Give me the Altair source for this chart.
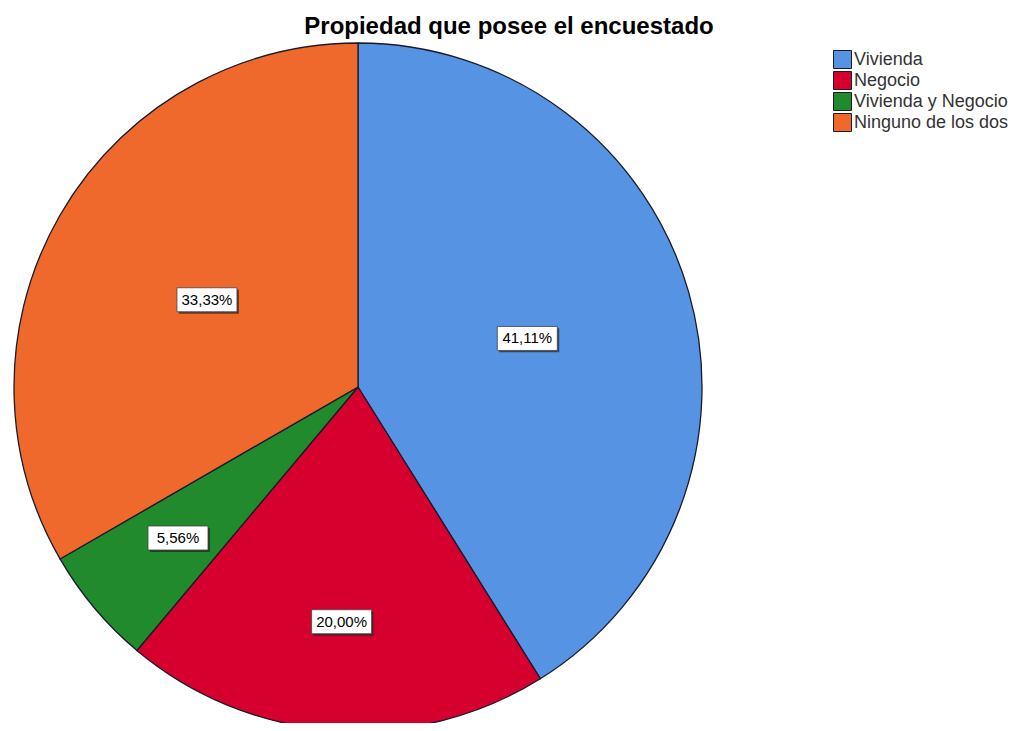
import altair as alt
import pandas as pd

# ---- data ----
categories = ["Vivienda", "Negocio", "Vivienda y Negocio", "Ninguno de los dos"]
percentages = [41.11, 20.00, 5.56, 33.33]
label_texts = ["41,11%", "20,00%", "5,56%", "33,33%"]

# ---- style ----
colors = ["#5693E3", "#D5002E", "#218A2C", "#F0692C"]
label_radius = [0.512, 0.684, 0.683, 0.507]  # label distance as fraction of radius
R = 344
W = 688
H = 660
FONT = "Liberation Sans"

df = pd.DataFrame({
    "cat": categories,
    "pct": percentages,
    "label": label_texts,
    "idx": list(range(len(categories))),
    "lr": label_radius,
})

color_scale = alt.Scale(domain=categories, range=colors)
xs = alt.Scale(domain=[-W / 2 / R, W / 2 / R])
ys = alt.Scale(domain=[-H / 2 / R, H / 2 / R])

base = alt.Chart(df)

pie = base.mark_arc(outerRadius=R, stroke="#1a1a2a", strokeWidth=1.3).encode(
    theta=alt.Theta("pct:Q", stack=True),
    order=alt.Order("idx:Q"),
    color=alt.Color(
        "cat:N",
        scale=color_scale,
        sort=categories,
        legend=alt.Legend(
            title=None,
            orient="none",
            legendX=819,
            legendY=-7,
            symbolType="square",
            symbolSize=324,
            symbolStrokeColor="#1a1a2a",
            symbolStrokeWidth=1,
            labelFont=FONT,
            labelFontSize=18,
            labelColor="#333333",
            labelOffset=2,
            clipHeight=19,
            rowPadding=2,
            padding=0,
        ),
    ),
)

pos = base.transform_window(
    cum="sum(pct)", sort=[alt.SortField("idx")], frame=[None, 0]
).transform_joinaggregate(
    total="sum(pct)"
).transform_calculate(
    mid="(datum.cum - datum.pct / 2) / datum.total * 2 * PI",
).transform_calculate(
    px="sin(datum.mid) * datum.lr",
    py="cos(datum.mid) * datum.lr",
)

enc = dict(
    x=alt.X("px:Q", scale=xs, axis=None),
    y=alt.Y("py:Q", scale=ys, axis=None),
)

shadow = pos.mark_point(
    shape="M-1.17,-0.42 L1.33,-0.42 L1.33,0.58 L-1.17,0.58 Z",
    size=2304,
    filled=True,
    fill="#222222",
    opacity=0.7,
    strokeWidth=0,
).encode(**enc)

box = pos.mark_point(
    shape="M-1.25,-0.5 L1.25,-0.5 L1.25,0.5 L-1.25,0.5 Z",
    size=2304,
    filled=True,
    fill="white",
    opacity=1,
    stroke="#444444",
    strokeWidth=0.8,
).encode(**enc)

text = pos.mark_text(font=FONT, fontSize=15, color="black").encode(
    text="label:N", **enc
)

chart = alt.layer(pie, shadow, box, text).properties(
    width=W,
    height=H,
    background="white",
    title=alt.TitleParams(
        "Propiedad que posee el encuestado",
        font=FONT,
        fontSize=24,
        fontWeight="bold",
        color="black",
        anchor="middle",
        dx=151,
        offset=1,
    ),
    autosize=alt.AutoSizeParams(type="none"),
    padding={"left": 6, "top": 49, "right": 316, "bottom": 6},
).configure_view(strokeWidth=0, stroke="transparent")

chart.save("out.html", embed_options={"renderer": "svg", "actions": False})
